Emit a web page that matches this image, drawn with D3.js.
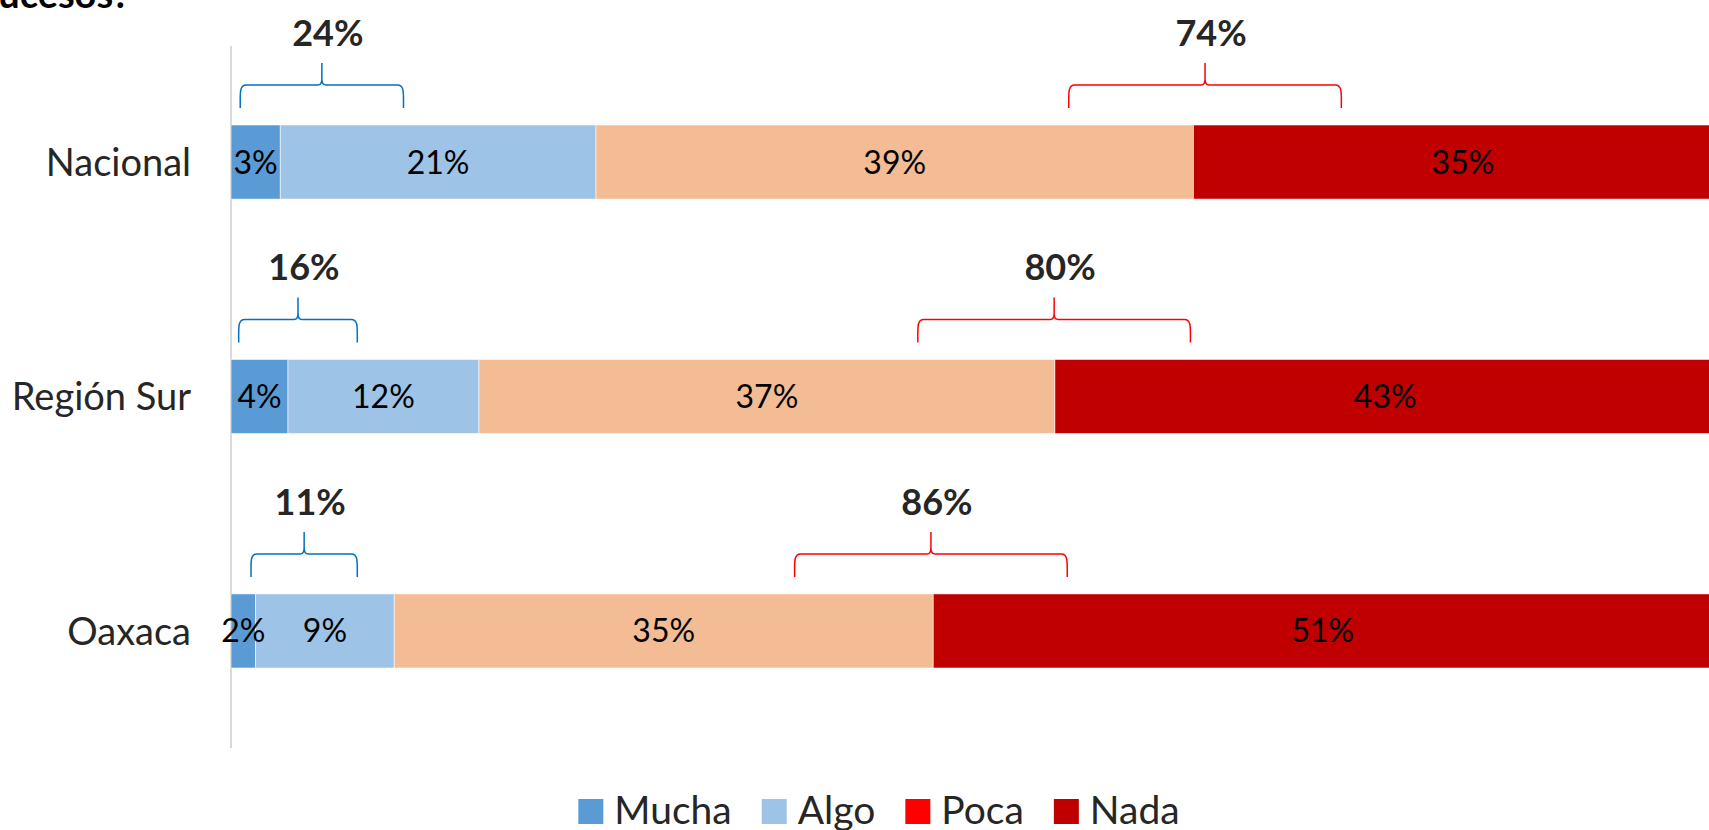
<!DOCTYPE html>
<html>
<head>
<meta charset="utf-8">
<script src="https://cdn.jsdelivr.net/npm/d3@7"></script>
<style>
  html, body { margin: 0; padding: 0; background: #fff; overflow: hidden; }
  svg { display: block; }
  text { font-family: Lato, "Open Sans", sans-serif; }
</style>
</head>
<body>
<svg id="chart" width="1709" height="830"></svg>
<script>
// ---- data ----
const categories = ["Nacional", "Región Sur", "Oaxaca"];
const seriesNames = ["Mucha", "Algo", "Poca", "Nada"];
const mucha = [3.2, 3.7, 1.6];
const algo  = [20.5, 12.4, 9.0];
const poca  = [38.8, 37.4, 35.0];
const nada  = [35.0, 42.9, 50.6];
const positiveTotals = [24, 16, 11];   // Mucha + Algo (annotation)
const negativeTotals = [74, 80, 86];   // Poca + Nada (annotation)
// annotation bracket extents, in the same % units as the bars
const positiveBracket = [[0.6, 11.2], [0.5, 8.2], [1.3, 8.2]];
const negativeBracket = [[54.4, 72.1], [44.6, 62.3], [36.6, 54.3]];
const titleFragment = "¿…de estos sucesos?";

// ---- styles ----
const barColors = ["#5B9BD5", "#9DC3E6", "#F4BC94", "#C00000"];
const legendColors = ["#5B9BD5", "#9DC3E6", "#FF0000", "#C00000"];
const blueBrace = "#0070C0", redBrace = "#FF0000";

const svg = d3.select("#chart");
const seriesValues = [mucha, algo, poca, nada];
const rows = categories.map((c, i) => {
  const o = { cat: c };
  seriesNames.forEach((s, j) => o[s] = seriesValues[j][i]);
  return o;
});
const stack = d3.stack().keys(seriesNames)(rows);

const x = d3.scaleLinear().domain([0, 100]).range([231, 1771]);
const y = d3.scaleBand().domain(categories).range([125, 668]).paddingInner(0.684).paddingOuter(0);

// title fragment (cut at top of picture)
svg.append("text").attr("x", 130).attr("y", 8).attr("text-anchor", "end")
  .attr("font-size", 38).attr("font-weight", 700).attr("fill", "#000").text(titleFragment);

// value axis line (behind bars and labels)
svg.append("line").attr("x1", x(0)).attr("x2", x(0)).attr("y1", 46).attr("y2", 748)
  .attr("stroke", "#D9D9D9").attr("stroke-width", 2);

// bars
const g = svg.append("g");
stack.forEach((layer, j) => {
  g.selectAll(null).data(layer).join("rect")
    .attr("x", d => x(d[0]))
    .attr("width", d => x(d[1]) - x(d[0]))
    .attr("y", d => y(d.data.cat))
    .attr("height", y.bandwidth())
    .attr("fill", barColors[j])
    .attr("stroke", "#ffffff").attr("stroke-width", 0.8).attr("stroke-opacity", 0.7);
});
stack.forEach((layer, j) => {
  g.selectAll(null).data(layer).join("text")
    .attr("x", d => (x(d[0]) + x(d[1])) / 2)
    .attr("y", d => y(d.data.cat) + y.bandwidth() / 2)
    .attr("dy", "0.36em")
    .attr("text-anchor", "middle")
    .attr("font-size", 32)
    .attr("fill", "#000")
    .text(d => Math.round(d[1] - d[0]) + "%");
});

// category axis
const yAxis = d3.axisLeft(y).tickSize(0).tickPadding(40);
const ax = svg.append("g").attr("transform", `translate(${x(0)},0)`).call(yAxis);
ax.select(".domain").remove();
ax.selectAll("text").attr("font-size", 38).attr("fill", "#262626")
  .attr("font-family", "Lato, 'Open Sans', sans-serif").attr("dy", "0.36em");

// braces
function bracePath(x0, x1, top) {
  const yT = top - 62, yH = top - 40, yE = top - 17, xc = (x0 + x1) / 2, r = 6;
  return `M${x0},${yE} C${x0},${yH + 8} ${x0 - 1},${yH} ${x0 + r},${yH} L${xc - 4},${yH} Q${xc},${yH} ${xc},${yH - r} L${xc},${yT}` +
         ` M${xc},${yT} L${xc},${yH - r} Q${xc},${yH} ${xc + 4},${yH} L${x1 - r},${yH} C${x1 + 1},${yH} ${x1},${yH + 8} ${x1},${yE}`;
}
function drawBraces(spans, totals, color) {
  const bg = svg.append("g");
  categories.forEach((c, i) => {
    const x0 = x(spans[i][0]), x1 = x(spans[i][1]), top = y(c);
    bg.append("path").attr("d", bracePath(x0, x1, top))
      .attr("fill", "none").attr("stroke", color).attr("stroke-width", 1.5);
    bg.append("text").attr("x", (x0 + x1) / 2 + 6).attr("y", top - 79)
      .attr("text-anchor", "middle").attr("font-size", 36).attr("font-weight", 700)
      .attr("fill", "#262626").text(totals[i] + "%");
  });
}
drawBraces(positiveBracket, positiveTotals, blueBrace);
drawBraces(negativeBracket, negativeTotals, redBrace);

// legend
const leg = svg.append("g");
let cx = 0;
seriesNames.forEach((s, i) => {
  const it = leg.append("g").attr("transform", `translate(${cx},0)`);
  it.append("rect").attr("x", 0).attr("y", -25).attr("width", 25).attr("height", 25).attr("fill", legendColors[i]);
  const t = it.append("text").attr("x", 36).attr("y", 0).attr("font-size", 39).attr("fill", "#262626").text(s);
  cx += 36 + t.node().getComputedTextLength() + 30;
});
const legW = cx - 30;
leg.attr("transform", `translate(${879 - legW / 2},824)`);
</script>
</body>
</html>
